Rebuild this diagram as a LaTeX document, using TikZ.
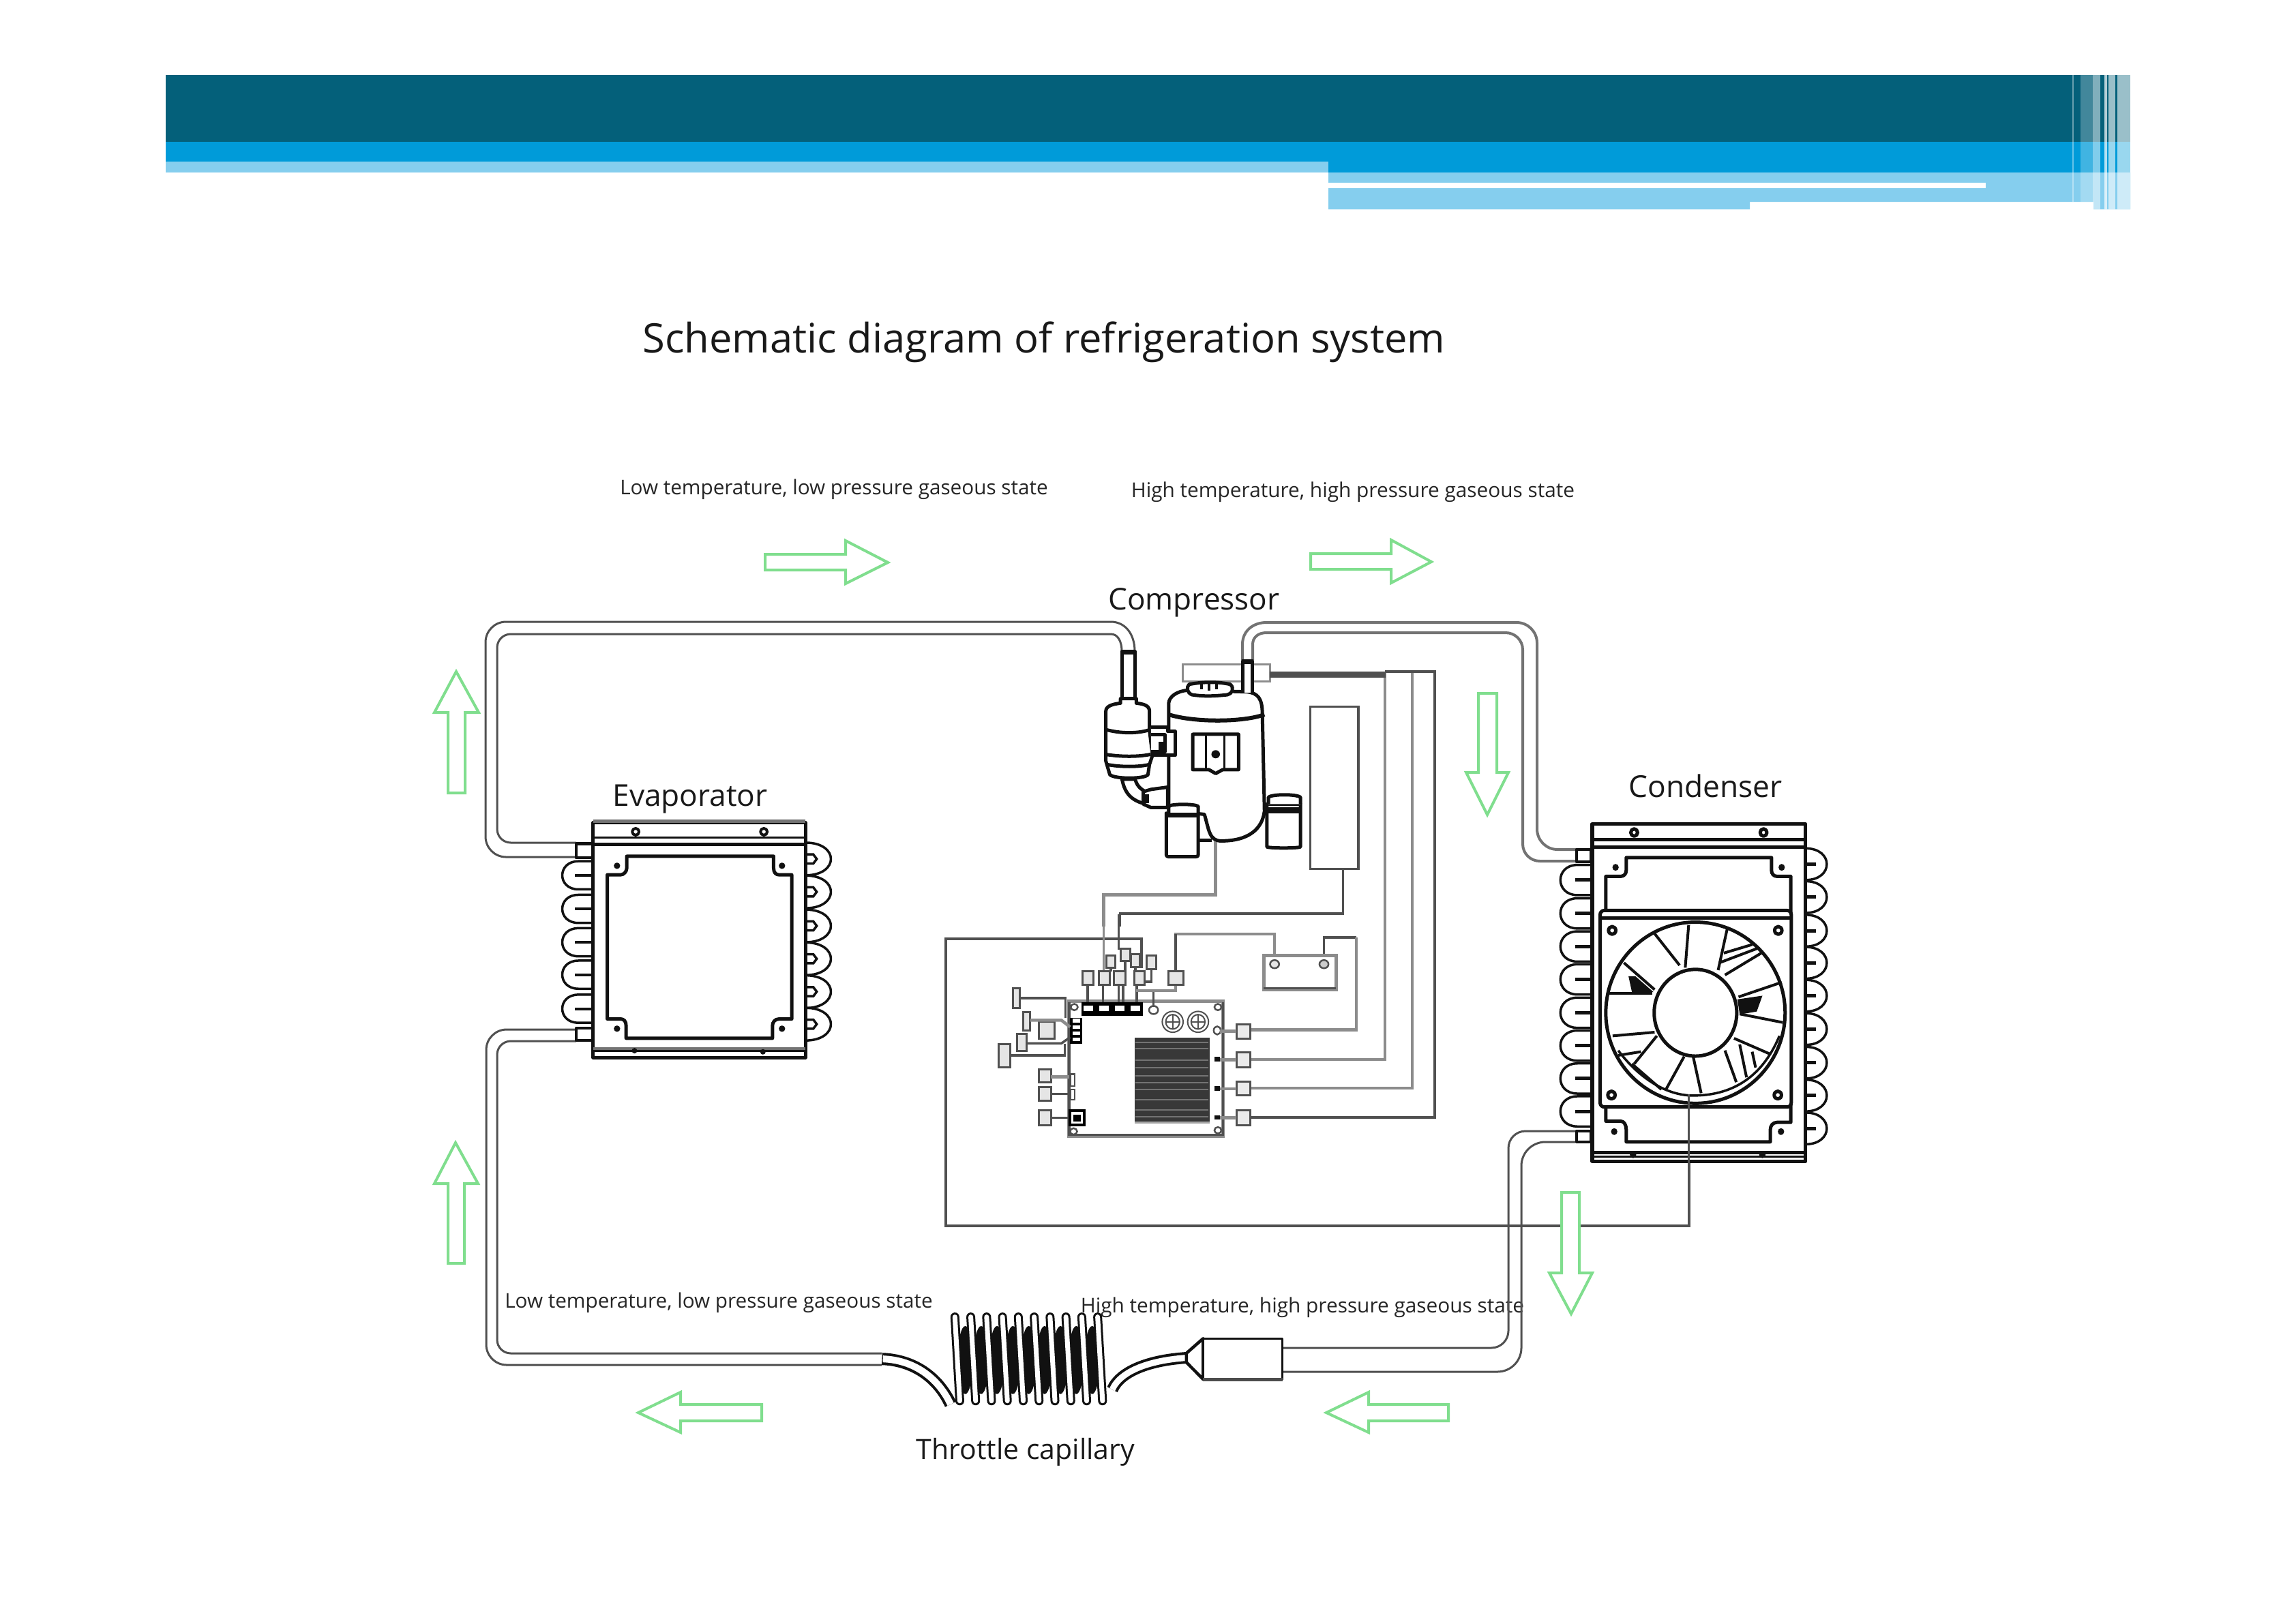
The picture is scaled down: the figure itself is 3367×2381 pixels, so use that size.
\documentclass[tikz,border=0pt]{standalone}
\usepackage{fontspec}
\usepackage{graphicx}
\setmainfont{Open Sans}
\usetikzlibrary{calc}
\definecolor{hdark}{HTML}{04607A}
\definecolor{hblue}{HTML}{009BD9}
\definecolor{hlight}{HTML}{85CEEE}
\definecolor{agreen}{HTML}{80DE8E}
\definecolor{wdark}{HTML}{505050}
\definecolor{wgray}{HTML}{8C8C8C}
\definecolor{inkk}{HTML}{111111}
\newcommand{\fitw}[2]{\resizebox{#1cm}{!}{#2}}
\tikzset{
  lab/.style={inner sep=0pt,outer sep=0pt,text=black!85},
  flowarrow/.style={draw=agreen,line width=0.04cm,fill=white,line join=miter},
  pipe/.style={draw=wdark,line width=0.03cm},
  pipeg/.style={draw=black!55,line width=0.04cm},
  wire/.style={draw=wdark,line width=0.035cm},
  wireg/.style={draw=wgray,line width=0.045cm},
  ink/.style={draw=inkk,line width=0.05cm,line join=round},
  inkthin/.style={draw=inkk,line width=0.03cm,line join=round},
  comp/.style={draw=wdark,line width=0.025cm},
}
\begin{document}
\begin{tikzpicture}[x=0.01cm,y=-0.01cm]
\useasboundingbox (0,0) rectangle (3367,2381);
\fill[white] (0,0) rectangle (3367,2381);
% ---------- header band
\fill[hlight] (243,237) rectangle (1948,253);
\fill[hdark] (243,110) rectangle (3124,208);
\fill[hblue] (243,208) rectangle (1948,237);
\fill[hblue] (1948,208) rectangle (3124,253);
\fill[hlight] (1948,253) -- (3124,253) -- (3124,307) -- (3070,307) -- (3070,296) -- (2566,296) -- (2566,307) -- (1948,307) -- cycle;
\fill[white] (1948,268) rectangle (2912,276);
\fill[white,opacity=.4] (3039,110) rectangle (3041,296);
\fill[white,opacity=.25] (3051,110) rectangle (3069,296);
\fill[white,opacity=.5] (3069,110) rectangle (3080,307);
\fill[white,opacity=.7] (3086,110) rectangle (3090,307);
\fill[white,opacity=.6] (3092,110) rectangle (3102,307);
\fill[white,opacity=.6] (3105,110) rectangle (3124,307);
% ---------- texts
\node[lab,text=black!90] (title) at (1531,502) {\fitw{11.76}{Schematic diagram of refrigeration system}};
\node[lab] (ltop) at (1223,718) {\fitw{6.27}{Low temperature, low pressure gaseous state}};
\node[lab] (htop) at (1984,722) {\fitw{6.50}{High temperature, high pressure gaseous state}};
\node[lab,text=black!90] (compressor) at (1751,884) {\fitw{2.51}{Compressor}};
\node[lab,text=black!90] (evaporator) at (1012,1172) {\fitw{2.27}{Evaporator}};
\node[lab,text=black!90] (condenser) at (2501,1153) {\fitw{2.25}{Condenser}};
\node[lab] (lbot) at (1054,1911) {\fitw{6.27}{Low temperature, low pressure gaseous state}};
\node[lab] (hbot) at (1910,1918) {\fitw{6.50}{High temperature, high pressure gaseous state}};
\node[lab,text=black!90] (throttle) at (1504,2130) {\fitw{3.20}{Throttle capillary}};
% ---------- wires (behind everything else)
\draw[wire] (1674,1420) -- (1674,1377) -- (1387,1377) -- (1387,1798) -- (2477,1798) -- (2477,1700);
\draw[wireg] (2031,985) -- (2031,1554) -- (1835,1554);
\draw[wireg] (2071,985) -- (2071,1596) -- (1835,1596);
\draw[wire,line width=0.04cm] (2031,985) -- (2104,985) -- (2104,1639) -- (1835,1639);
% ---------- pipes
\draw[pipe,rounded corners=0.3cm] (845,1257) -- (712,1257) -- (712,912) -- (1629,912);
\draw[pipe] (1629,912) .. controls (1650,912) and (1664,930) .. (1664,955);
\draw[pipe,rounded corners=0.2cm] (845,1236) -- (729,1236) -- (729,930) -- (1629,930);
\draw[pipe] (1629,930) .. controls (1640,930) and (1645,942) .. (1645,955);
\draw[pipeg] (1822,968) -- (1822,945) .. controls (1822,925) and (1838,913) .. (1857,913);
\draw[pipeg,rounded corners=0.3cm] (1857,913) -- (2254,913) -- (2254,1246) -- (2312,1246);
\draw[pipeg] (1837,968) -- (1837,945) .. controls (1837,935) and (1845,928) .. (1857,928);
\draw[pipeg,rounded corners=0.25cm] (1857,928) -- (2233,928) -- (2233,1263) -- (2312,1263);
\draw[pipe,rounded corners=0.25cm] (2310,1659) -- (2212,1659) -- (2212,1977) -- (1879,1977);
\draw[pipe,rounded corners=0.35cm] (2310,1675) -- (2231,1675) -- (2231,2012) -- (1879,2012);
\draw[pipe,rounded corners=0.3cm] (845,1510) -- (713,1510) -- (713,2002) -- (1293,2002);
\draw[pipe,rounded corners=0.2cm] (845,1527) -- (729,1527) -- (729,1985) -- (1293,1985);
% ---------- compressor (zoom-1 frame)
\begin{scope}[shift={(1500,850)},x=0.004464cm,y=-0.003333cm]
  \draw[wireg] (632,855) -- (632,1390) -- (265,1390) -- (265,1530);
  \draw[wire] (1050,1275) -- (1050,1473) -- (318,1473) -- (318,1530);
  \draw[comp,fill=white,draw=wgray,line width=0.03cm] (525,375) rectangle (810,450);
  \draw[draw=wdark,line width=0.09cm] (810,418) -- (1190,418);
  \draw[comp,line width=0.035cm,fill=white] (942,560) rectangle (1100,1275);
  % body
  \draw[ink,fill=white] (478,1020) -- (478,545) .. controls (480,515) and (505,492) .. (540,488) -- (735,495) .. controls (770,500) and (785,525) .. (785,590) -- (792,1020) .. controls (785,1100) and (740,1152) .. (650,1152) .. controls (610,1152) and (610,1100) .. (595,1035) -- (560,1030);
  \draw[ink,line width=0.06cm] (478,595) .. controls (560,630) and (720,630) .. (792,595);
  \draw[ink,fill=white] (545,462) .. controls (590,450) and (640,450) .. (680,462) .. controls (695,480) and (685,505) .. (670,508) .. controls (620,515) and (590,515) .. (555,508) .. controls (538,500) and (535,475) .. (545,462) -- cycle;
  \draw[draw=inkk,line width=0.04cm] (585,460) -- (585,485) (610,458) -- (610,490) (635,458) -- (635,485);
  \draw[ink,fill=white] (722,500) -- (722,358) -- (752,358) -- (752,500);
  \fill[inkk] (722,355) rectangle (752,372);
  % window
  \draw[ink,fill=white] (557,682) -- (707,682) -- (707,838) -- (655,838) -- (632,855) -- (610,838) -- (557,838) -- cycle;
  \draw[inkthin] (600,682) -- (600,838) (660,682) -- (660,838);
  \fill[inkk] (632,770) ellipse (14 and 18);
  % accumulator tube and body
  \draw[ink,fill=white] (325,520) -- (325,318) -- (368,318) -- (368,520);
  \fill[inkk] (325,312) rectangle (368,330);
  \draw[ink,fill=white] (272,660) -- (272,580) .. controls (272,555) and (300,548) .. (320,545) -- (320,525) -- (372,525) -- (372,545) .. controls (395,548) and (415,555) .. (415,580) -- (415,665) -- (425,775) -- (415,815) -- (410,860) .. controls (400,880) and (300,880) .. (285,860) -- (272,800) -- cycle;
  \draw[ink,line width=0.05cm] (268,660) .. controls (320,680) and (380,680) .. (420,660);
  \draw[ink] (268,770) .. controls (320,782) and (380,782) .. (420,770);
  \draw[ink] (275,815) .. controls (320,827) and (380,827) .. (415,815);
  % bracket
  \draw[ink,fill=white] (420,650) -- (475,650) -- (475,670) -- (500,670) -- (500,775) -- (420,775);
  \fill[inkk] (445,715) rectangle (462,760);
  \draw[ink] (420,685) -- (465,685) -- (465,760) -- (420,760);
  % lower elbow
  \draw[ink,fill=white] (325,880) .. controls (335,950) and (360,980) .. (420,995) -- (420,945) .. controls (390,930) and (375,915) .. (368,880) -- cycle;
  \draw[ink,fill=white] (395,935) -- (420,925) -- (475,915) -- (475,1005) -- (420,1005) -- (395,990) -- cycle;
  \fill[inkk] (395,945) rectangle (413,985);
  % capacitors
  \draw[ink,fill=white] (470,1030) -- (575,1030) -- (575,1210) .. controls (575,1222) and (570,1222) .. (560,1222) -- (485,1222) .. controls (475,1222) and (470,1222) .. (470,1210) -- cycle;
  \draw[ink,fill=white] (478,1030) -- (478,1000) .. controls (485,988) and (565,988) .. (575,1000) -- (575,1030);
  \fill[inkk] (470,1028) rectangle (575,1048);
  \draw[ink,fill=white] (800,990) -- (910,990) -- (910,1178) .. controls (905,1185) and (805,1185) .. (800,1178) -- cycle;
  \draw[ink,fill=white] (805,990) -- (805,960) .. controls (815,945) and (900,945) .. (910,960) -- (910,990);
  \fill[inkk] (800,1005) rectangle (910,1030);
  \draw[inkk,line width=0.05cm] (580,1150) -- (620,1150);
\end{scope}
% ---------- control board (zoom-2 frame)
\begin{scope}[shift={(1350,1330)},x=0.005102cm,y=-0.003333cm]
  \draw[wireg,line width=0.035cm] (733,285) -- (733,120) -- (1018,120) -- (1018,240);
  \draw[wire] (733,120) -- (733,285);
  \draw[wire] (1160,240) -- (1160,135) -- (1253,135);
  \draw[wireg] (1253,135) -- (1253,543) -- (950,543);
  % board
  \draw[wireg,fill=white,line width=0.05cm] (427,415) rectangle (870,1010);
  \draw[wire] (427,420) -- (427,1005) -- (870,1005) -- (870,420);
  % heat sink
  \fill[black!78] (615,578) rectangle (832,945);
  \fill[black!35] (615,945) rectangle (832,955);
  \foreach \yy in {598,625,675,710,745,775,805,850,895,925} \draw[black!55,line width=0.02cm] (618,\yy) -- (828,\yy);
  % fans on board
  \foreach \xx in {725,798} {
    \draw[comp,line width=0.02cm] (\xx,507) ellipse (30 and 46);
    \draw[comp,line width=0.02cm] (\xx,507) ellipse (20 and 32);
    \draw[comp,line width=0.02cm] (\xx-20,507) -- (\xx+20,507) (\xx,475) -- (\xx,539);
  }
  % corner holes
  \foreach \xx/\yy in {442/442,855/442,440/990,855/985} \draw[comp] (\xx,\yy) ellipse (10 and 14);
  \draw[comp] (670,455) ellipse (13 and 18);
  \draw[comp] (853,545) ellipse (10 and 18);
  \foreach \yy in {672,800,928} \fill[inkk] (846,\yy-10) rectangle (860,\yy+10);
  % connector blocks
  \fill[black] (462,420) rectangle (640,480);
  \foreach \xx in {482,527,572,617} \fill[white] (\xx-14,436) rectangle (\xx+14,460);
  % wires from top row to the parts
  \draw[wireg,line width=0.03cm] (527,0) -- (527,285);
  \draw[wire] (570,33) -- (570,190);
  \draw[wire] (635,140) -- (635,210);
  \foreach \xx in {480,525,570,622} \draw[wire] (\xx,345) -- (\xx,420);
  \draw[wire] (582,345) -- (582,420);
  \draw[wire] (670,370) -- (670,440);
  \draw[wireg] (620,370) -- (733,370) -- (733,343);
  \foreach \xa/\ya/\xb/\yb in {535/215/560/270,575/185/602/240,605/210/630/265,650/215/678/275,465/285/497/345,512/285/545/345,555/285/590/345,615/285/645/345,712/285/755/343}
    \draw[comp,line width=0.03cm,fill=black!10] (\xa,\ya) rectangle (\xb,\yb);
  \draw[wire] (547,270) -- (547,285) (588,240) -- (588,285) (618,265) -- (618,285) (664,275) -- (664,330) -- (645,330);
  % battery-like block
  \draw[wire,line width=0.03cm] (987,365) -- (987,215);
  \draw[wireg,fill=white] (987,215) rectangle (1195,365);
  \draw[wire,line width=0.03cm] (987,360) -- (1195,360);
  \draw[comp,fill=black!10] (1018,253) ellipse (13 and 18);
  \draw[comp,fill=black!20] (1160,253) ellipse (13 and 18);
  % right sockets
  \foreach \yya/\yyb in {517/580,640/708,772/832,898/962} {
    \draw[comp,line width=0.03cm,fill=black!8] (908,\yya) rectangle (948,\yyb);
    \draw[wireg] (860,{(\yya+\yyb)/2}) -- (908,{(\yya+\yyb)/2});
  }
  % left side
  \fill[black] (430,490) rectangle (465,605);
  \foreach \yy in {502,530,558,585} \fill[white] (437,\yy-8) rectangle (458,\yy+8);
  \foreach \xa/\ya/\xb/\yb in {265/358/285/445,295/465/315/545,340/505/385/580,278/560/305/635,225/605/258/708,340/718/375/775,340/795/375/855,340/897/375/962}
    \draw[comp,line width=0.03cm,fill=black!10] (\xa,\ya) rectangle (\xb,\yb);
  \draw[wire] (285,403) -- (417,403) -- (417,490);
  \draw[wireg] (315,500) -- (405,500) -- (430,530);
  \draw[wire] (305,602) -- (405,602) -- (430,575);
  \draw[wire] (258,655) -- (415,655) -- (415,605);
  \draw[wireg] (375,750) -- (430,750);
  \draw[wire] (375,825) -- (430,825);
  \draw[wire] (375,930) -- (430,930);
  \draw[comp,fill=white] (430,738) rectangle (443,790);
  \draw[comp,fill=white] (430,805) rectangle (443,850);
  \draw[draw=black,line width=0.04cm,fill=white] (430,897) rectangle (470,962);
  \fill[black] (440,915) rectangle (460,945);
\end{scope}
% ---------- evaporator (zoom-4 frame)
\begin{scope}[shift={(800,1180)},x=0.003333cm,y=-0.003333cm]
  \foreach \cy in {312,460,607,750,900} {
    \draw[inkthin,line width=0.035cm] (210,\cy-62) -- (145,\cy-62) .. controls (50,\cy-62) and (50,\cy+62) .. (145,\cy+62) -- (210,\cy+62);
    \draw[inkk,line width=0.04cm] (130,\cy) -- (210,\cy);
  }
  \foreach \cy in {240,385,535,680,825,968} {
    \draw[inkthin,line width=0.035cm] (1145,\cy-72) .. controls (1295,\cy-72) and (1295,\cy+72) .. (1145,\cy+72);
    \draw[inkk,line width=0.035cm,fill=white] (1148,\cy-20) -- (1180,\cy-20) -- (1195,\cy) -- (1180,\cy+20) -- (1148,\cy+20);
  }
  \draw[inkthin,line width=0.045cm,fill=white] (135,173) rectangle (208,235);
  \draw[inkthin,line width=0.04cm,fill=white] (135,985) rectangle (208,1040);
  \draw[ink,fill=white] (210,80) rectangle (1145,1115);
  \draw[draw=black!55,line width=0.05cm] (210,75) -- (1145,75);
  \draw[inkthin] (210,145) -- (1145,145);
  \draw[ink] (210,175) -- (1145,175);
  \draw[draw=black!55,line width=0.04cm] (210,1075) -- (1145,1075);
  \draw[inkthin] (210,1085) -- (1145,1085);
  \foreach \xx in {397,962} \draw[ink,line width=0.04cm] (\xx,120) circle (15);
  \foreach \xx/\yy in {392/1085,958/1090} \fill[inkk] (\xx,\yy) circle (12);
  \draw[ink] (358,228) -- (1005,228) -- (1005,280) .. controls (1005,300) and (1015,310) .. (1030,310) -- (1085,310) -- (1085,945) -- (1030,945) .. controls (1010,945) and (1000,960) .. (1000,975) -- (1000,1030) -- (355,1030) -- (355,975) .. controls (355,955) and (345,945) .. (330,945) -- (272,945) -- (272,310) -- (330,310) .. controls (345,310) and (358,295) .. (358,280) -- cycle;
  \foreach \xx/\yy in {315/270,1042/270,315/988,1042/988} \fill[inkk] (\xx,\yy) circle (14);
\end{scope}
% ---------- condenser (zoom-3 frame)
\begin{scope}[shift={(2250,1180)},x=0.003333cm,y=-0.003571cm]
  \foreach \cy in {310,447,583,718,855,990,1125,1260} {
    \draw[inkthin,line width=0.035cm] (255,\cy-62) -- (190,\cy-62) .. controls (90,\cy-62) and (90,\cy+62) .. (190,\cy+62) -- (255,\cy+62);
    \draw[inkk,line width=0.05cm] (180,\cy) -- (255,\cy);
  }
  \foreach \cy in {245,380,518,650,785,922,1060,1195,1330} {
    \draw[inkthin,line width=0.035cm] (1195,\cy-65) .. controls (1320,\cy-65) and (1320,\cy+65) .. (1195,\cy+65);
    \draw[inkk,line width=0.05cm] (1195,\cy) -- (1240,\cy);
  }
  \draw[inkthin,line width=0.04cm,fill=white] (185,185) rectangle (250,235);
  \draw[inkthin,line width=0.04cm,fill=white] (185,1340) rectangle (250,1385);
  \draw[ink,line width=0.055cm,fill=white] (255,80) rectangle (1195,1465);
  \draw[ink] (255,145) -- (1195,145);
  \draw[ink,line width=0.05cm] (255,175) -- (1195,175);
  \draw[ink,line width=0.05cm] (255,1428) -- (1195,1428);
  \draw[inkthin] (255,1445) -- (1195,1445);
  \foreach \xx in {440,1010} \draw[ink] (\xx,115) circle (15);
  \foreach \xx in {435,1005} \fill[inkk] (\xx,1438) circle (14);
  \draw[ink] (405,218) -- (1045,218) -- (1045,270) .. controls (1045,285) and (1055,295) .. (1070,295) -- (1130,295) -- (1130,1305) -- (1070,1305) .. controls (1050,1305) and (1040,1320) .. (1040,1335) -- (1040,1385) -- (405,1385) -- (405,1335) .. controls (405,1315) and (395,1300) .. (380,1300) -- (315,1300) -- (315,295) -- (380,295) .. controls (395,295) and (405,285) .. (405,270) -- cycle;
  \foreach \xx/\yy in {358/258,1090/258,352/1343,1087/1343} \fill[inkk] (\xx,\yy) circle (14);
  % housing
  \draw[ink,fill=white,rounded corners=0.06cm] (290,435) rectangle (1132,1242);
  \draw[ink] (290,465) -- (1132,465);
  \foreach \xx/\yy in {343/517,1075/517,340/1193,1073/1193} \draw[ink] (\xx,\yy) circle (16);
  % fan
  \draw[ink,line width=0.05cm,fill=white] (710,855) ellipse (395 and 372);
  \draw[inkthin,line width=0.035cm] (1080,950) .. controls (1000,1130) and (860,1195) .. (700,1195) .. controls (570,1195) and (450,1110) .. (370,1010);
  \foreach \xa/\ya/\xb/\yb in {530/530/640/660,680/495/665/670,850/510/810/680,835/610/960/575,815/650/985/590,840/700/1000/610,900/790/1090/730,905/860/1095/895,880/960/1040/1025,840/1010/890/1140,905/985/935/1120,960/1015/975/1080,700/1035/735/1185,660/1035/580/1170,540/950/440/1065,530/935/345/950,520/775/330/775,395/650/530/760,430/1065/560/1170,470/1015/370/1030}
    \draw[ink,line width=0.04cm] (\xa,\ya) -- (\xb,\yb);
  \fill[inkk] (415,705) -- (445,705) -- (525,770) -- (430,770) -- cycle;
  \fill[inkk] (895,800) -- (1005,785) -- (980,850) -- (905,862) -- cycle;
  \draw[ink,line width=0.05cm,fill=white] (710,855) ellipse (182 and 178);
  \draw[wire] (680,1190) -- (680,1580);
\end{scope}
% ---------- capillary (zoom-5 frame)
\begin{scope}[shift={(1250,1880)},x=0.004464cm,y=-0.003333cm]
  % connecting tubes
  \draw[draw=inkk,line width=0.18cm] (97,340) .. controls (200,345) and (280,420) .. (322,540);
  \draw[draw=white,line width=0.1cm] (100,340) .. controls (200,345) and (280,420) .. (322,540);
  \draw[draw=inkk,line width=0.17cm] (1095,335) .. controls (980,345) and (880,390) .. (852,475);
  \draw[draw=white,line width=0.09cm] (1098,335) .. controls (980,345) and (880,390) .. (852,475);
  % coil: shaded back of each turn, then front strands
  \foreach \i in {0,...,8} {
    \fill[inkk] ({370+52*\i},345) ellipse (25 and 150);
  }
  \foreach \i in {0,...,9} {
    \draw[draw=inkk,line width=0.13cm,line cap=round] ({336+52*\i},155) -- ({352+52*\i},525);
  }
  \foreach \i in {0,...,9} {
    \draw[draw=white,line width=0.07cm,line cap=round] ({336+52*\i},155) -- ({352+52*\i},525);
  }
  % receiver
  \draw[inkthin,line width=0.045cm,fill=white] (1095,315) -- (1150,250) -- (1150,430) -- (1095,355) -- cycle;
  \draw[inkthin,line width=0.03cm,fill=white] (1150,250) rectangle (1410,432);
  \fill[inkk] (1150,245) rectangle (1410,256);
  \fill[black!70] (1150,425) rectangle (1410,440);
\end{scope}
% ---------- green flow arrows
\draw[flowarrow] (1122,813) -- (1240,813) -- (1240,793) -- (1302,825) -- (1240,856) -- (1240,836) -- (1122,836) -- cycle;
\draw[flowarrow] (1922,812) -- (2040,812) -- (2040,792) -- (2099,824) -- (2040,855) -- (2040,835) -- (1922,835) -- cycle;
\draw[flowarrow] (657,1163) -- (657,1045) -- (637,1045) -- (669,985) -- (702,1045) -- (682,1045) -- (682,1163) -- cycle;
\draw[flowarrow] (657,1853) -- (657,1736) -- (637,1736) -- (668,1676) -- (701,1736) -- (681,1736) -- (681,1853) -- cycle;
\draw[flowarrow] (2168,1017) -- (2168,1133) -- (2150,1133) -- (2181,1195) -- (2212,1133) -- (2195,1133) -- (2195,1017) -- cycle;
\draw[flowarrow] (2290,1749) -- (2290,1867) -- (2272,1867) -- (2304,1927) -- (2335,1867) -- (2316,1867) -- (2316,1749) -- cycle;
\draw[flowarrow] (1117,2060) -- (998,2060) -- (998,2042) -- (936,2072) -- (998,2101) -- (998,2084) -- (1117,2084) -- cycle;
\draw[flowarrow] (2124,2060) -- (2007,2060) -- (2007,2042) -- (1945,2072) -- (2007,2101) -- (2007,2084) -- (2124,2084) -- cycle;
\end{tikzpicture}
\end{document}
